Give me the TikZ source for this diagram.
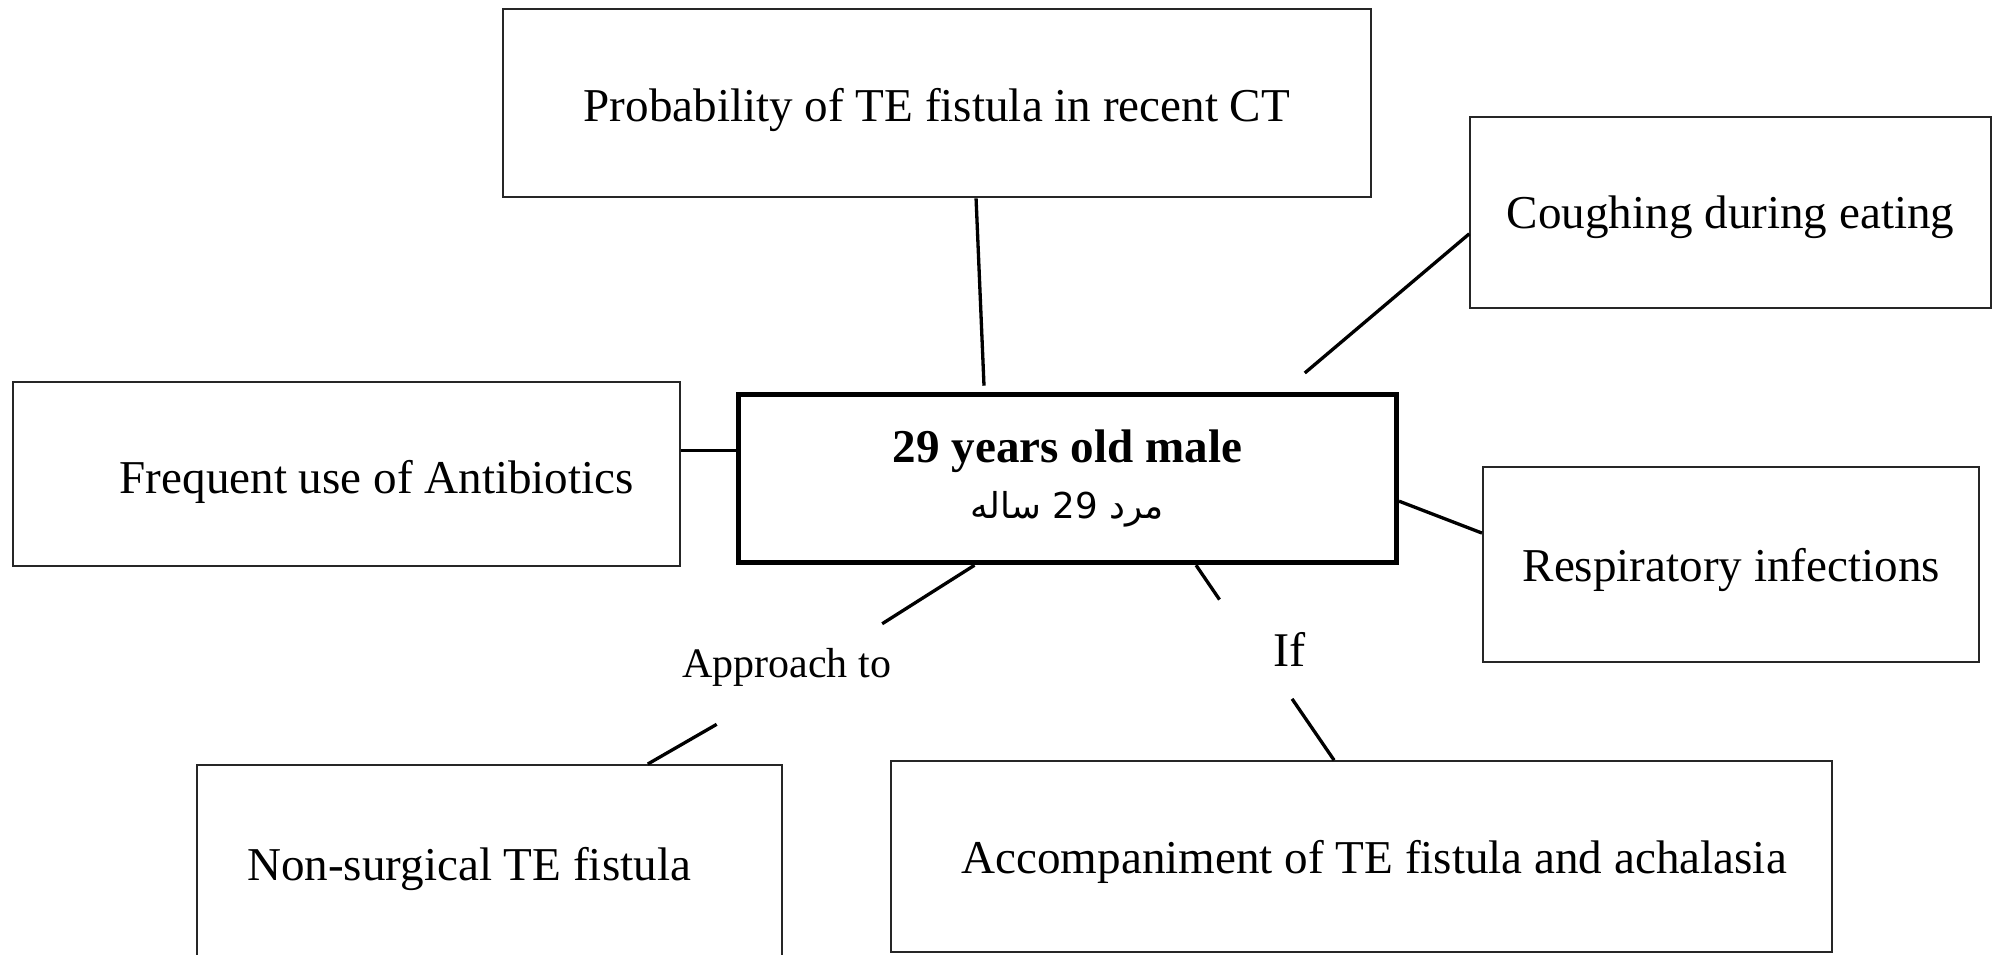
\documentclass[tikz,border=0pt]{standalone}
\usepackage{fontspec}
\setmainfont{Liberation Serif}
\newfontfamily\arabicfont[Script=Arabic]{DejaVu Sans}
\TeXXeTstate=1
\usetikzlibrary{calc}
\begin{document}
\begin{tikzpicture}[x=1pt,y=-1pt,
  boxbase/.style={draw=black!85, line width=1.6pt, inner sep=0pt, align=center,
    font=\fontsize{37}{44}\selectfont},
  box/.style={boxbase, text depth=0pt},
  mainbox/.style={boxbase, draw=black, line width=4pt},
  conn/.style={line width=2.6pt, black},
  lbl/.style={inner sep=0pt}]
\useasboundingbox (0,0) rectangle (1568,750);
\fill[white] (0,0) rectangle (1568,750);

\node[box, minimum width=682pt, minimum height=148pt] (prob) at (736,81)
  {\raisebox{-3pt}{Probability of TE fistula in recent CT}};
\node[box, minimum width=409pt, minimum height=150pt] (cough) at (1359.5,167)
  {Coughing during eating};
\node[box, minimum width=524pt, minimum height=145pt] (freq) at (272,372.5)
  {\hspace*{48pt}\raisebox{-4pt}{Frequent use of Antibiotics}};
\node[mainbox, minimum width=517pt, minimum height=132pt] (ctr) at (838.5,376)
  {\textbf{29 years old male}\\{\fontsize{28}{44}\arabicfont\beginR مرد \beginL 29\endL{} ساله\endR}};
\node[box, minimum width=390pt, minimum height=153pt] (resp) at (1360,443.5)
  {Respiratory infections};
\node[box, minimum width=459pt, minimum height=156pt] (nons) at (384.5,679)
  {\hspace*{-32pt}Non-surgical TE fistula};
\node[box, minimum width=739pt, minimum height=150pt] (acc) at (1069.5,673)
  {\hspace*{20pt}\raisebox{-1pt}{Accompaniment of TE fistula and achalasia}};

\node[lbl, font=\fontsize{33}{40}\selectfont] (appr) at (618,524) {Approach to};
\node[lbl, font=\fontsize{38}{44}\selectfont] (iflbl) at (1013,510) {If};

% free ends of connectors
\coordinate (probEnd) at (773,303);
\coordinate (coughEnd) at (1025,293);
\coordinate (apA) at (693,490);
\coordinate (apB) at (563,569);
\coordinate (ifA) at (958,471);
\coordinate (ifB) at (1015,549);
\coordinate (freqPt) at ($(freq.north east)!0.372!(freq.south east)$);

\draw[conn] ($(prob.south west)!0.545!(prob.south east)$) -- (probEnd);
\draw[conn] ($(cough.north west)!0.61!(cough.south west)$) -- (coughEnd);
\draw[conn] (freqPt) -- (ctr.west |- freqPt);
\draw[conn] ($(ctr.north east)!0.63!(ctr.south east)$) -- ($(resp.north west)!0.34!(resp.south west)$);
\draw[conn] ($(ctr.south west)!0.36!(ctr.south east)$) -- (apA);
\draw[conn] (apB) -- ($(nons.north west)!0.77!(nons.north east)$);
\draw[conn] ($(ctr.south west)!0.694!(ctr.south east)$) -- (ifA);
\draw[conn] (ifB) -- ($(acc.north west)!0.471!(acc.north east)$);
\end{tikzpicture}
\end{document}
